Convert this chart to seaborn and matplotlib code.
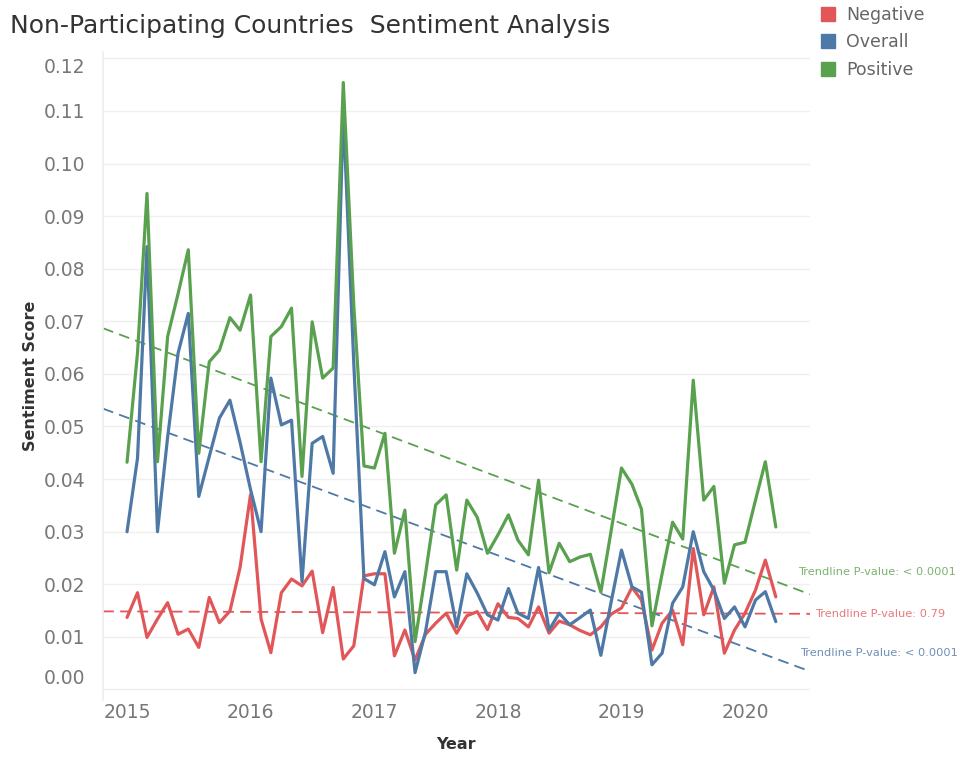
import numpy as np
import pandas as pd
import matplotlib
matplotlib.use("Agg")
import matplotlib.pyplot as plt
import matplotlib.dates as mdates
from matplotlib.lines import Line2D
import seaborn as sns

# Monthly sentiment scores, Jan 2015 - Apr 2020
months = pd.date_range("2015-01-01", periods=64, freq="MS")

positive = [
    0.0432, 0.0640, 0.0943, 0.0433, 0.0671, 0.0753, 0.0836, 0.0449, 0.0623, 0.0645,
    0.0707, 0.0683, 0.0750, 0.0433, 0.0671, 0.0690, 0.0725, 0.0405, 0.0699, 0.0592,
    0.0611, 0.1154, 0.0730, 0.0425, 0.0421, 0.0487, 0.0259, 0.0341, 0.0091, 0.0220,
    0.0351, 0.0370, 0.0227, 0.0360, 0.0327, 0.0259, 0.0294, 0.0332, 0.0284, 0.0256,
    0.0398, 0.0222, 0.0278, 0.0243, 0.0252, 0.0257, 0.0185, 0.0300, 0.0421, 0.0390,
    0.0343, 0.0121, 0.0220, 0.0318, 0.0286, 0.0588, 0.0360, 0.0386, 0.0202, 0.0275,
    0.0280, 0.0360, 0.0433, 0.0309,
]
overall = [
    0.0300, 0.0440, 0.0842, 0.0300, 0.0480, 0.0640, 0.0715, 0.0367, 0.0443, 0.0516,
    0.0550, 0.0470, 0.0380, 0.0300, 0.0592, 0.0503, 0.0512, 0.0205, 0.0468, 0.0481,
    0.0411, 0.1100, 0.0620, 0.0211, 0.0199, 0.0262, 0.0176, 0.0224, 0.0032, 0.0110,
    0.0224, 0.0224, 0.0119, 0.0220, 0.0183, 0.0142, 0.0132, 0.0192, 0.0145, 0.0135,
    0.0232, 0.0113, 0.0145, 0.0123, 0.0137, 0.0151, 0.0065, 0.0165, 0.0265, 0.0195,
    0.0185, 0.0047, 0.0069, 0.0164, 0.0195, 0.0300, 0.0224, 0.0189, 0.0135, 0.0157,
    0.0119, 0.0170, 0.0186, 0.0129,
]
negative = [
    0.0137, 0.0184, 0.0099, 0.0134, 0.0165, 0.0105, 0.0115, 0.0080, 0.0175, 0.0127,
    0.0149, 0.0232, 0.0371, 0.0134, 0.0070, 0.0184, 0.0210, 0.0197, 0.0225, 0.0108,
    0.0194, 0.0058, 0.0083, 0.0216, 0.0220, 0.0220, 0.0064, 0.0113, 0.0056, 0.0105,
    0.0126, 0.0145, 0.0107, 0.0140, 0.0148, 0.0114, 0.0163, 0.0137, 0.0135, 0.0119,
    0.0157, 0.0107, 0.0130, 0.0123, 0.0112, 0.0104, 0.0119, 0.0143, 0.0155, 0.0194,
    0.0170, 0.0075, 0.0126, 0.0151, 0.0085, 0.0268, 0.0142, 0.0195, 0.0069, 0.0113,
    0.0145, 0.0189, 0.0246, 0.0176,
]

series_order = ["Negative", "Overall", "Positive"]
palette = {"Negative": "#e15759", "Overall": "#4e79a7", "Positive": "#59a14f"}
label_colors = {"Negative": "#e8797b", "Overall": "#6f8fb5", "Positive": "#7bb26f"}
pvalue_text = {
    "Positive": "Trendline P-value: < 0.0001",
    "Negative": "Trendline P-value: 0.79",
    "Overall": "Trendline P-value: < 0.0001",
}
year_ticks = [2015, 2016, 2017, 2018, 2019, 2020]
y_ticks = [0.00, 0.01, 0.02, 0.03, 0.04, 0.05, 0.06, 0.07, 0.08, 0.09, 0.10, 0.11, 0.12]

df = pd.DataFrame({
    "Month": months,
    "Negative": negative,
    "Overall": overall,
    "Positive": positive,
}).melt(id_vars="Month", var_name="Sentiment", value_name="Score")

sns.set_theme(style="white")
plt.rcParams["font.family"] = ["DejaVu Sans"]

fig = plt.figure(figsize=(9.64, 7.57), dpi=100)
ax = fig.add_axes([103 / 964, 1 - 700 / 757, (810 - 103) / 964, (700 - 52) / 757])

sns.lineplot(data=df, x="Month", y="Score", hue="Sentiment", hue_order=series_order,
             palette=palette, linewidth=2.3, ax=ax, legend=False)

x_left = pd.Timestamp("2014-10-22")
x_right = pd.Timestamp("2020-07-11")
ax.set_xlim(x_left, x_right)
ax.set_ylim(-0.0020, 0.1212)

# Linear trend lines fitted to each monthly series
xnum = mdates.date2num(months)
xline = mdates.date2num([x_left, x_right])
trend_ends = {}
for name, vals in zip(["Negative", "Overall", "Positive"], [negative, overall, positive]):
    slope, intercept = np.polyfit(xnum, vals, 1)
    yline = slope * xline + intercept
    ax.plot(xline, yline, color=palette[name], lw=1.3, dashes=(6, 3.5), zorder=1)
    trend_ends[name] = yline[-1]

offsets = {"Positive": (-12, 22), "Negative": (5, 0), "Overall": (-10, 18)}
for name in ["Positive", "Negative", "Overall"]:
    ax.annotate(pvalue_text[name], xy=(xline[-1], trend_ends[name]),
                xytext=offsets[name], textcoords="offset pixels",
                ha="left", va="center", fontsize=8.2, color=label_colors[name],
                annotation_clip=False)

# Axes styling; the outermost y labels are drawn nudged inward below
tick_style = dict(fontsize=13.5, color="#777777")
ax.set_yticks(y_ticks)
ax.set_yticklabels([f"{v:.2f}" if 0 < i < len(y_ticks) - 1 else ""
                    for i, v in enumerate(y_ticks)])
for v, dy in [(y_ticks[0], 11), (y_ticks[-1], -9)]:
    ax.annotate(f"{v:.2f}", xy=(0, v), xycoords=("axes fraction", "data"),
                xytext=(-18, dy), textcoords="offset pixels",
                ha="right", va="center", annotation_clip=False, **tick_style)
ax.set_xticks([pd.Timestamp(f"{y}-01-01") for y in year_ticks])
ax.set_xticklabels([str(y) for y in year_ticks])
ax.tick_params(axis="both", length=0, labelsize=13.5, colors="#777777")
ax.tick_params(axis="y", pad=13)
ax.tick_params(axis="x", pad=2)
ax.grid(axis="y", color="#efefef", lw=1)
ax.grid(axis="x", visible=False)
for side in ["top", "right", "bottom"]:
    ax.spines[side].set_visible(False)
ax.spines["left"].set_color("#eeeeee")

ax.set_xlabel("Year", fontsize=11.5, fontweight="bold", color="#333333", labelpad=11)
ax.set_ylabel("Sentiment Score", fontsize=11.5, fontweight="bold", color="#333333")
ax.yaxis.set_label_coords(-0.092, 0.5)

fig.text(10 / 964, 1 - 26 / 757, "Non-Participating Countries  Sentiment Analysis",
         fontsize=18, color="#333333", ha="left", va="center")

handles = [Line2D([0], [0], marker="s", linestyle="none", markersize=10,
                  markerfacecolor=palette[n], markeredgecolor=palette[n]) for n in series_order]
fig.legend(handles, series_order, loc="upper left", bbox_to_anchor=(818 / 964, 1 - 4 / 757),
           frameon=False, fontsize=12.5, labelcolor="#666666", handletextpad=0.5,
           labelspacing=0.55, handlelength=1.0, borderaxespad=0, borderpad=0.1)

fig.savefig("out.png", dpi=100, facecolor="white")
